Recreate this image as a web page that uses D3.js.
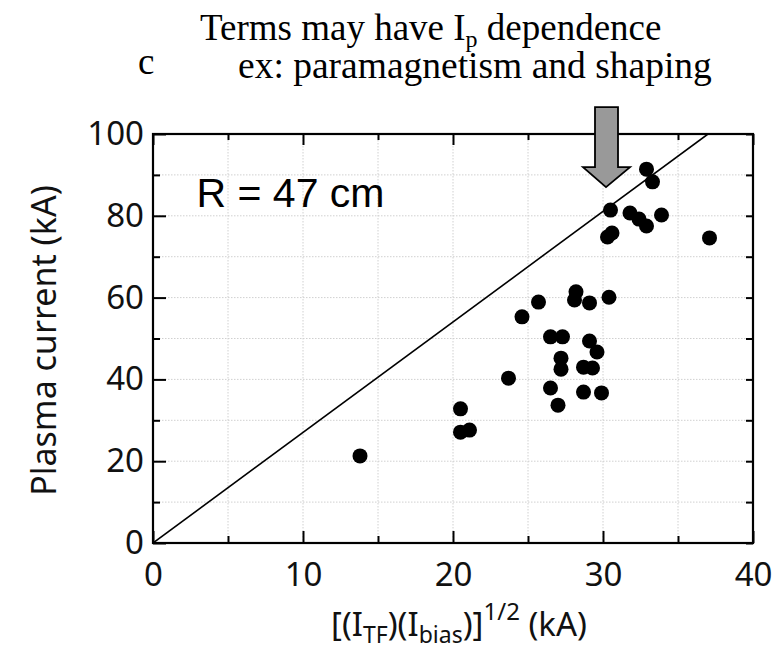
<!DOCTYPE html>
<html>
<head>
<meta charset="utf-8">
<script src="https://cdn.jsdelivr.net/npm/d3@7"></script>
<style>
  body { margin: 0; background: #fff; }
  svg { display: block; }
</style>
</head>
<body>
<script>
// data
var ibiasSqrt = [13.8, 20.5, 20.5, 21.1, 23.7, 24.6, 25.7, 26.5, 26.5, 27.0, 27.2, 27.2, 27.3,
    28.1, 28.2, 28.7, 28.7, 29.1, 29.1, 29.3, 29.6, 29.9, 30.4, 30.3, 30.6, 30.5,
    31.8, 32.4, 32.9, 32.9, 33.3, 33.9, 37.1];
var plasmaCurrent = [21.3, 32.8, 27.1, 27.6, 40.3, 55.3, 58.9, 37.9, 50.4, 33.7, 45.2, 42.5, 50.4,
    59.4, 61.4, 36.9, 43.0, 49.4, 58.7, 42.8, 46.7, 36.7, 60.1, 74.8, 75.8, 81.4,
    80.7, 79.2, 77.5, 91.4, 88.3, 80.2, 74.6];
var refLineX = [0, 37];
var refLineY = [0, 100];
var xTicks = [0, 10, 20, 30, 40];
var xMinor = [5, 15, 25, 35];
var yTicks = [0, 20, 40, 60, 80, 100];
var yMinor = [10, 30, 50, 70, 90];
var arrowAt = { x: 30.2, y: 87 };

var W = 780, H = 653;
var margin = { top: 134, right: 27, bottom: 110, left: 153 },
    width = W - margin.left - margin.right,
    height = H - margin.top - margin.bottom;

var sans = "Noto Sans, DejaVu Sans, sans-serif";
var serif = "Liberation Serif, Times New Roman, serif";

var svg = d3.select("body").append("svg")
    .attr("width", W)
    .attr("height", H);

var g = svg.append("g")
    .attr("transform", "translate(" + margin.left + "," + margin.top + ")");

var x = d3.scaleLinear().domain([0, 40]).range([0, width]);
var y = d3.scaleLinear().domain([0, 100]).range([height, 0]);

// grid
g.append("g").selectAll("line")
    .data(d3.range(5, 40, 5)).enter().append("line")
    .attr("x1", d => x(d)).attr("x2", d => x(d))
    .attr("y1", 0).attr("y2", height)
    .attr("stroke", "#d0d0d0").attr("stroke-dasharray", "1.5,1.5");
g.append("g").selectAll("line")
    .data(d3.range(10, 100, 10)).enter().append("line")
    .attr("y1", d => y(d)).attr("y2", d => y(d))
    .attr("x1", 0).attr("x2", width)
    .attr("stroke", "#d0d0d0").attr("stroke-dasharray", "1.5,1.5");

// reference line, clipped to the frame
svg.append("clipPath").attr("id", "clip").append("rect")
    .attr("width", width).attr("height", height);
g.append("path")
    .datum(d3.zip(refLineX, refLineY))
    .attr("clip-path", "url(#clip)")
    .attr("fill", "none")
    .attr("stroke", "#000")
    .attr("stroke-width", 1.6)
    .attr("d", d3.line().x(d => x(d[0])).y(d => y(d[1])));

// points
g.append("g").selectAll("circle")
    .data(d3.zip(ibiasSqrt, plasmaCurrent)).enter().append("circle")
    .attr("cx", d => x(d[0]))
    .attr("cy", d => y(d[1]))
    .attr("r", 7.5)
    .attr("fill", "#000");

// axes with inward ticks
function styleAxis(sel) {
    sel.select(".domain").remove();
    sel.selectAll("line").attr("stroke", "#000").attr("stroke-width", 2);
    sel.selectAll("text").attr("font-family", sans)
        .attr("font-size", 33).attr("fill", "#111");
}
g.append("g").attr("transform", "translate(0," + height + ")")
    .call(d3.axisBottom(x).tickValues(xTicks).tickSizeInner(-12).tickPadding(20).tickSizeOuter(0))
    .call(styleAxis);
g.append("g").attr("transform", "translate(0," + height + ")")
    .call(d3.axisBottom(x).tickValues(xMinor).tickSize(-7).tickFormat(""))
    .call(styleAxis);
g.append("g")
    .call(d3.axisTop(x).tickValues(xTicks).tickSize(-11).tickFormat(""))
    .call(styleAxis);
g.append("g")
    .call(d3.axisTop(x).tickValues(xMinor).tickSize(-6).tickFormat(""))
    .call(styleAxis);
g.append("g")
    .call(d3.axisLeft(y).tickValues(yTicks).tickSizeInner(-13).tickPadding(9).tickSizeOuter(0))
    .call(styleAxis);
g.append("g")
    .call(d3.axisLeft(y).tickValues(yMinor).tickSize(-7).tickFormat(""))
    .call(styleAxis);
g.append("g").attr("transform", "translate(" + width + ",0)")
    .call(d3.axisRight(y).tickValues(yTicks.concat(yMinor)).tickSize(-7).tickFormat(""))
    .call(styleAxis);

// frame
g.append("rect")
    .attr("width", width).attr("height", height)
    .attr("fill", "none").attr("stroke", "#000").attr("stroke-width", 2.2);

// R label
g.append("text")
    .attr("x", x(2.9)).attr("y", y(82.2))
    .attr("font-family", "Liberation Sans, Arial, sans-serif")
    .attr("font-size", 41)
    .text("R = 47 cm");

// axis labels
svg.append("text")
    .attr("transform", "translate(56," + (margin.top + height / 2 + 2) + ") rotate(-90)")
    .attr("text-anchor", "middle")
    .attr("font-family", sans)
    .attr("font-size", 34)
    .attr("fill", "#111")
    .text("Plasma current (kA)");

var xl = svg.append("text")
    .attr("x", margin.left + width / 2 + 6).attr("y", 636)
    .attr("text-anchor", "middle")
    .attr("font-family", sans)
    .attr("font-size", 33)
    .attr("fill", "#111");
xl.append("tspan").text("[(I");
xl.append("tspan").attr("font-size", 23).attr("dy", 7).text("TF");
xl.append("tspan").attr("dy", -7).text(")(I");
xl.append("tspan").attr("font-size", 23).attr("dy", 7).text("bias");
xl.append("tspan").attr("dy", -7).text(")]");
xl.append("tspan").attr("font-size", 24).attr("dy", -16).text("1/2");
xl.append("tspan").attr("dy", 16).text(" (kA)");

// arrow pointing at the upper cluster
var ax = margin.left + x(arrowAt.x), ay = margin.top + y(arrowAt.y);
svg.append("path")
    .attr("d", "M" + (ax - 11) + "," + (ay - 80) + " L" + (ax + 12) + "," + (ay - 80) +
        " L" + (ax + 12) + "," + (ay - 20) + " L" + (ax + 24) + "," + (ay - 20) +
        " L" + ax + "," + ay + " L" + (ax - 23) + "," + (ay - 20) +
        " L" + (ax - 11) + "," + (ay - 20) + " Z")
    .attr("fill", "#999")
    .attr("stroke", "#000")
    .attr("stroke-width", 1.8);

// title text
svg.append("text").attr("x", 138).attr("y", 74)
    .attr("font-family", serif).attr("font-size", 37).text("c");
var t1 = svg.append("text").attr("x", 200).attr("y", 40)
    .attr("font-family", serif).attr("font-size", 37);
t1.append("tspan").text("Terms may have I");
t1.append("tspan").attr("font-size", 24).attr("dy", 7).text("p");
t1.append("tspan").attr("dy", -7).text(" dependence");
svg.append("text").attr("x", 238).attr("y", 78)
    .attr("font-family", serif).attr("font-size", 37.5)
    .text("ex: paramagnetism and shaping");
</script>
</body>
</html>
